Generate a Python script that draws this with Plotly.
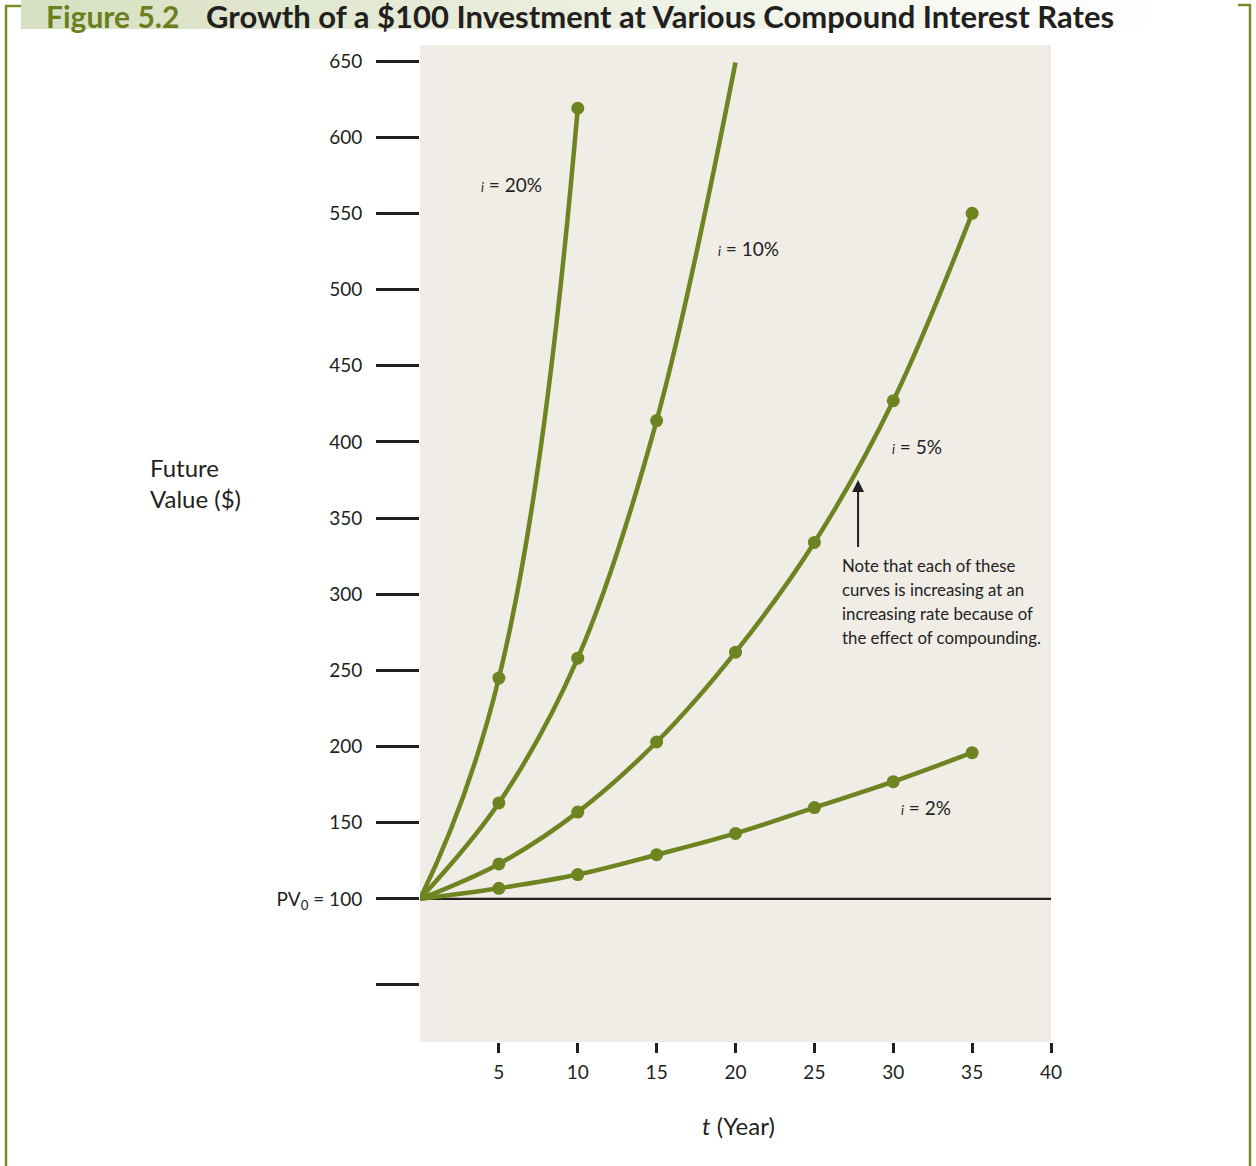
import plotly.graph_objects as go

# ---- data ----
years_20 = [0, 5, 10]
fv_20 = [100, 245, 619]
years_10 = [0, 5, 10, 15, 20]
fv_10 = [100, 163, 258, 414, 649]
years_5 = [0, 5, 10, 15, 20, 25, 30, 35]
fv_5 = [100, 123, 157, 203, 262, 334, 427, 550]
years_2 = [0, 5, 10, 15, 20, 25, 30, 35]
fv_2 = [100, 107, 116, 129, 143, 160, 177, 196]

x_ticks = [5, 10, 15, 20, 25, 30, 35, 40]
y_ticks = [44, 100, 150, 200, 250, 300, 350, 400, 450, 500, 550, 600, 650]
y_ticktext = ["", "PV<sub>0</sub> = 100", "150", "200", "250", "300", "350",
              "400", "450", "500", "550", "600", "650"]

series_labels = ["20%", "10%", "5%", "2%"]
note_lines = ["Note that each of these", "curves is increasing at an",
              "increasing rate because of", "the effect of compounding."]

GREEN = "#6e8421"
DARK = "#231f20"
FONT = "Lato"
BG = "#f0ece6"

fig = go.Figure()

def add_series(xs, ys, marked, smooth):
    sizes = [13 if m else 0 for m in marked]
    fig.add_trace(go.Scatter(
        x=xs, y=ys, mode="lines+markers",
        line=dict(color=GREEN, width=4.5, shape="spline", smoothing=smooth),
        marker=dict(color=GREEN, size=sizes, opacity=1, line=dict(width=0, color=GREEN)),
        showlegend=False, hoverinfo="skip", cliponaxis=False))

add_series(years_20, fv_20, [False, True, True], 1.3)
add_series(years_10, fv_10, [False, True, True, True, False], 1.0)
add_series(years_5, fv_5, [False] + [True] * 7, 1.0)
add_series(years_2, fv_2, [False] + [True] * 7, 1.0)

def px_x(px):
    return (px - 420) / 631.0

def px_y(py):
    return (1042 - py) / 997.0

shapes = []
# PV0 baseline across plot
shapes.append(dict(type="line", xref="x", yref="y", x0=0, x1=40, y0=100, y1=100,
                   line=dict(color=DARK, width=2.2), layer="below"))

# title band gradient
n = 40
x_start, x_end = 21, 1240
for k in range(n):
    a = x_start + (x_end - x_start) * k / n
    b = x_start + (x_end - x_start) * (k + 1) / n + 1
    f = k / (n - 1)
    f = min(1.0, f * 1.05)
    c0 = (216, 224, 194)
    c1 = (255, 255, 255)
    col = tuple(int(round(c0[i] + (c1[i] - c0[i]) * f)) for i in range(3))
    shapes.append(dict(type="rect", xref="paper", yref="paper",
                       x0=px_x(a), x1=px_x(b), y0=px_y(29), y1=px_y(-2),
                       fillcolor="rgb(%d,%d,%d)" % col, line=dict(width=0), layer="below"))

FRAME = "#7a8c2a"
shapes.append(dict(type="line", xref="paper", yref="paper", x0=px_x(6), x1=px_x(6),
                   y0=px_y(6), y1=px_y(1170), line=dict(color=FRAME, width=2.5)))
shapes.append(dict(type="line", xref="paper", yref="paper", x0=px_x(5), x1=px_x(21),
                   y0=px_y(6), y1=px_y(6), line=dict(color=FRAME, width=2.5)))
shapes.append(dict(type="line", xref="paper", yref="paper", x0=px_x(1250), x1=px_x(1250),
                   y0=px_y(5), y1=px_y(1170), line=dict(color=FRAME, width=2.5)))
shapes.append(dict(type="line", xref="paper", yref="paper", x0=px_x(1238), x1=px_x(1251),
                   y0=px_y(5), y1=px_y(5), line=dict(color=FRAME, width=2.5)))

annotations = []
# title
annotations.append(dict(
    xref="paper", yref="paper", x=px_x(44), y=px_y(16), xanchor="left", yanchor="middle",
    text="<b>Figure 5.2</b>", showarrow=False,
    font=dict(family=FONT, size=30, color="#6b7f1f", weight=900)))
annotations.append(dict(
    xref="paper", yref="paper", x=px_x(204), y=px_y(16), xanchor="left", yanchor="middle",
    text="<b>Growth of a $100 Investment at Various Compound Interest Rates</b>",
    showarrow=False, font=dict(family=FONT, size=31, color=DARK, weight=900)))

# y-axis title
annotations.append(dict(
    xref="paper", yref="paper", x=px_x(148), y=px_y(483), xanchor="left", yanchor="middle",
    text="Future<br>Value ($)", align="left", showarrow=False,
    font=dict(family=FONT, size=24, color=DARK)))

# x-axis title
annotations.append(dict(
    xref="paper", yref="paper", x=px_x(738), y=px_y(1125), xanchor="center", yanchor="middle",
    text="<i>t</i> (Year)", showarrow=False, font=dict(family=FONT, size=24, color=DARK)))

# series labels
label_pos = [(5.83, 569), (20.8, 527), (31.5, 397), (32.1, 160)]
for lab, (lx, ly) in zip(series_labels, label_pos):
    annotations.append(dict(
        xref="x", yref="y", x=lx, y=ly, xanchor="center", yanchor="middle",
        text="<span style='font-size:13px'><i>i</i></span> = " + lab, showarrow=False,
        font=dict(family=FONT, size=19, color=DARK)))

# arrow
annotations.append(dict(
    xref="x", yref="y", x=27.77, y=375, ax=27.77, ay=330, axref="x", ayref="y",
    text="", showarrow=True, arrowhead=2, arrowsize=1.2, arrowwidth=2, arrowcolor=DARK))

# note (one annotation per line to match the line spacing)
for j, line in enumerate(note_lines):
    py = 565 + 24 * j
    annotations.append(dict(
        xref="paper", yref="paper", x=px_x(840), y=px_y(py), xanchor="left", yanchor="middle",
        align="left", text=line, showarrow=False,
        font=dict(family=FONT, size=16.8, color=DARK)))

fig.update_layout(
    width=1256, height=1166,
    margin=dict(l=420, r=205, t=45, b=124),
    paper_bgcolor="white", plot_bgcolor=BG,
    shapes=shapes, annotations=annotations,
    xaxis=dict(range=[0, 40], tickvals=x_ticks, ticks="outside", ticklen=10, tickwidth=2.5,
               tickcolor=DARK, showgrid=False, zeroline=False, showline=False,
               tickfont=dict(family=FONT, size=19, color=DARK), ticklabelstandoff=3),
    yaxis=dict(range=[6.1, 660.5], tickvals=y_ticks, ticktext=y_ticktext, ticks="outside",
               ticklen=43, tickwidth=2.5, tickcolor=DARK, showgrid=False, zeroline=False,
               showline=False, tickfont=dict(family=FONT, size=19, color=DARK),
               ticklabelstandoff=10),
)

fig.write_html("out.html")
